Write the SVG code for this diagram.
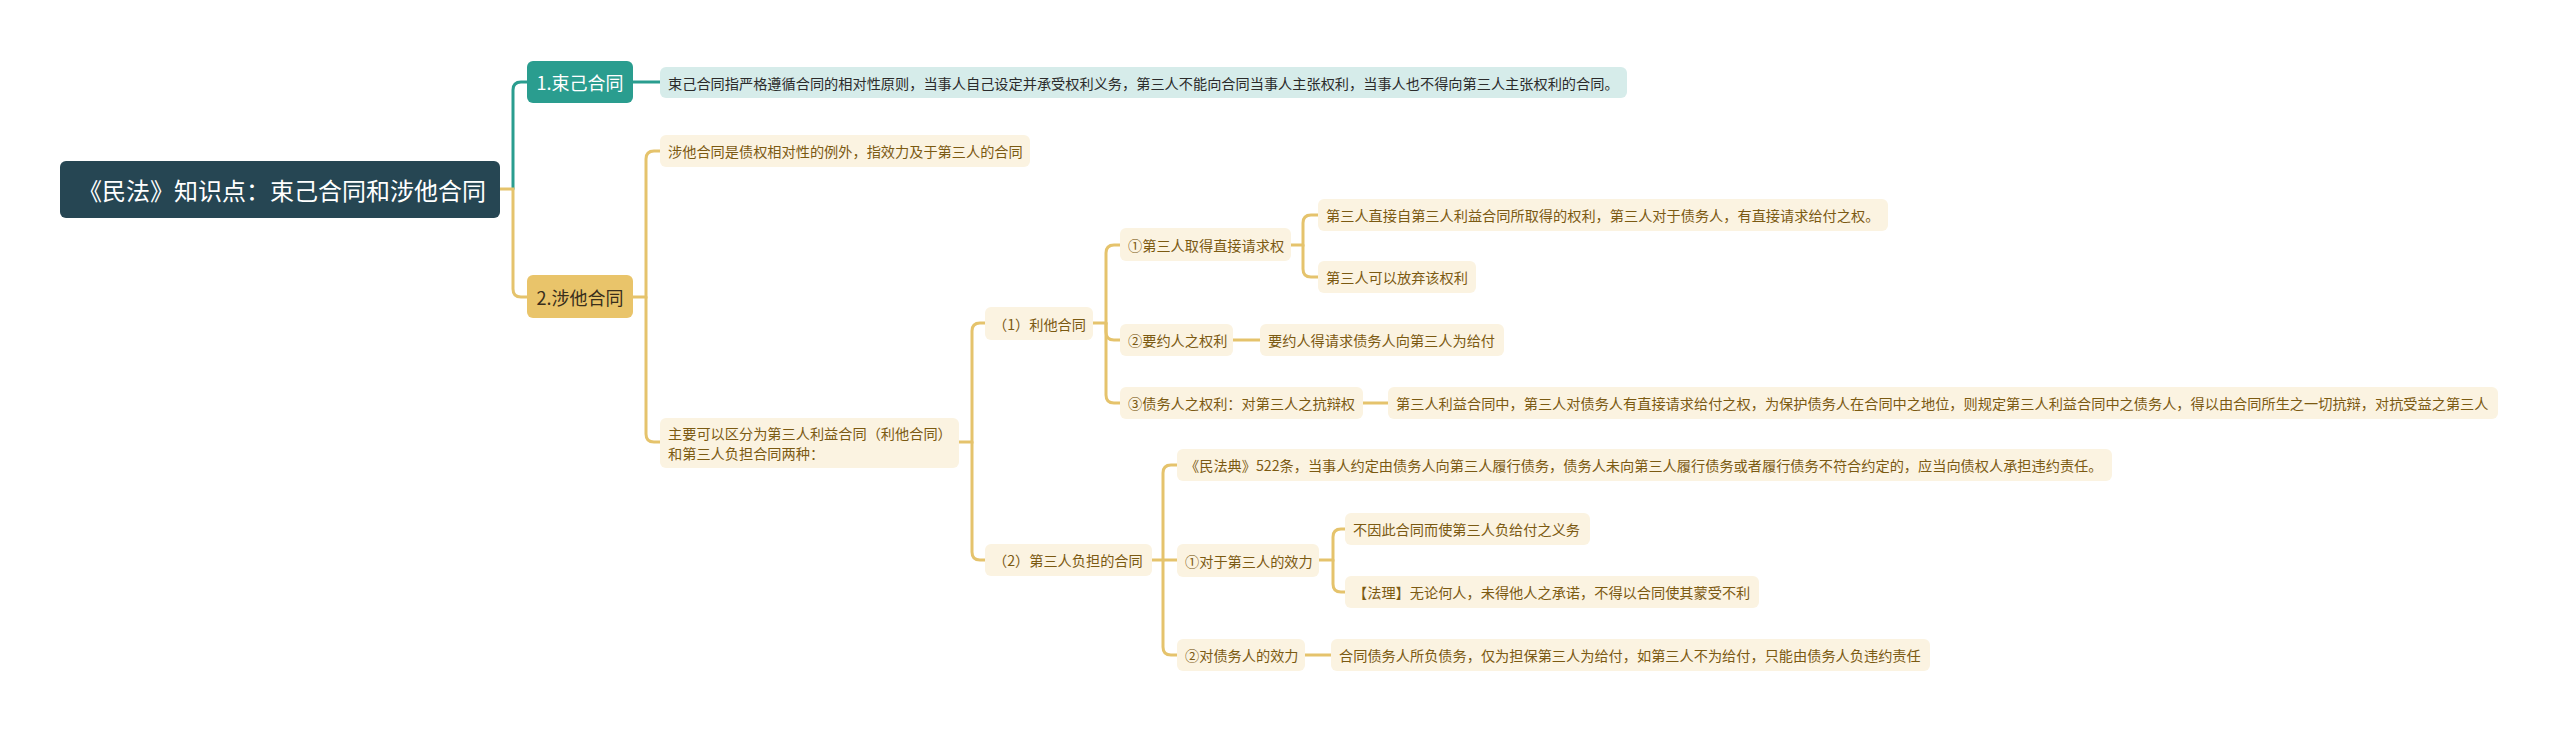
<svg xmlns="http://www.w3.org/2000/svg" width="2560" height="732" viewBox="0 0 2560 732">
<style>
text{font-family:"Noto Sans CJK SC","Noto Sans",sans-serif;dominant-baseline:central}
.root rect{fill:#264653}
.root text{fill:#ffffff;font-size:24px;text-anchor:middle}
.t1 rect{fill:#2a9d8f}
.t1 text{fill:#ffffff;font-size:18px;text-anchor:middle}
.t2 rect{fill:#e9c46a}
.t2 text{fill:#3a2f1c;font-size:18px;text-anchor:middle}
.tl rect{fill:#d6ecea}
.tl text{fill:#2b2b2b;font-size:14.2px}
.yl rect{fill:#fbf3e1}
.yl text{fill:#7b5a12;font-size:14.2px}
.c path{fill:none;stroke-width:3;stroke-linecap:round}
.c .teal{stroke:#2a9d8f}
.c .yel{stroke:#e5c36c}
</style>
<rect width="2560" height="732" fill="#ffffff"/>
<g id="connectors" class="c">
  <path class="teal" d="M513 189 V90 Q513 82 521 82 H527"/>
  <path class="yel" d="M500 189 H513 V289 Q513 297 521 297 H527"/>
  <path class="teal" d="M633 82 H660"/>
  <path class="yel" d="M633 297 H646 V159 Q646 151 654 151 H660"/>
  <path class="yel" d="M646 297 V434 Q646 442 654 442 H660"/>
  <path class="yel" d="M959 442 H972 V331 Q972 323 980 323 H985"/>
  <path class="yel" d="M972 442 V552 Q972 560 980 560 H985"/>
  <path class="yel" d="M1093 323 H1106 V253 Q1106 245 1114 245 H1120"/>
  <path class="yel" d="M1106 323 V332 Q1106 340 1114 340 H1120"/>
  <path class="yel" d="M1106 323 V395 Q1106 403 1114 403 H1120"/>
  <path class="yel" d="M1291 245 H1303 V223 Q1303 215 1311 215 H1318"/>
  <path class="yel" d="M1303 245 V269 Q1303 277 1311 277 H1318"/>
  <path class="yel" d="M1233 340 H1260"/>
  <path class="yel" d="M1363 403 H1388"/>
  <path class="yel" d="M1152 560 H1163 V473 Q1163 465 1171 465 H1177"/>
  <path class="yel" d="M1163 560 H1177"/>
  <path class="yel" d="M1163 560 V647 Q1163 655 1171 655 H1177"/>
  <path class="yel" d="M1319 560 H1333 V537 Q1333 529 1341 529 H1345"/>
  <path class="yel" d="M1333 560 V584 Q1333 592 1341 592 H1345"/>
  <path class="yel" d="M1305 655 H1331"/>
</g>
<g id="root" class="root"><rect x="60" y="161" width="440" height="57" rx="6"/><text x="282" y="189.5">《民法》知识点：束己合同和涉他合同</text></g>
<g id="n1" class="t1"><rect x="527" y="61" width="106" height="42" rx="6"/><text x="580" y="82">1.束己合同</text></g>
<g id="n1a" class="tl"><rect x="660" y="67" width="967" height="31" rx="6"/><text x="668" y="82.5">束己合同指严格遵循合同的相对性原则，当事人自己设定并承受权利义务，第三人不能向合同当事人主张权利，当事人也不得向第三人主张权利的合同。</text></g>
<g id="n2" class="t2"><rect x="527" y="275" width="106" height="43" rx="6"/><text x="580" y="296.5">2.涉他合同</text></g>
<g id="n2a" class="yl"><rect x="660" y="135" width="370" height="32" rx="6"/><text x="668" y="151">涉他合同是债权相对性的例外，指效力及于第三人的合同</text></g>
<g id="n2b" class="yl"><rect x="660" y="418" width="299" height="50" rx="6"/><text x="668" y="433">主要可以区分为第三人利益合同（利他合同）</text><text x="668" y="453">和第三人负担合同两种：</text></g>
<g id="n3a" class="yl"><rect x="985" y="307" width="108" height="33" rx="6"/><text x="993" y="323.5">（1）利他合同</text></g>
<g id="n3b" class="yl"><rect x="985" y="544" width="167" height="32" rx="6"/><text x="993" y="560">（2）第三人负担的合同</text></g>
<g id="n4a" class="yl"><rect x="1120" y="228" width="171" height="33" rx="6"/><text x="1128" y="244.5">①第三人取得直接请求权</text></g>
<g id="n4b" class="yl"><rect x="1120" y="324" width="113" height="32" rx="6"/><text x="1128" y="340">②要约人之权利</text></g>
<g id="n4c" class="yl"><rect x="1120" y="387" width="243" height="32" rx="6"/><text x="1128" y="403">③债务人之权利：对第三人之抗辩权</text></g>
<g id="n5a" class="yl"><rect x="1318" y="199" width="570" height="32" rx="6"/><text x="1326" y="215">第三人直接自第三人利益合同所取得的权利，第三人对于债务人，有直接请求给付之权。</text></g>
<g id="n5b" class="yl"><rect x="1318" y="261" width="158" height="32" rx="6"/><text x="1326" y="277">第三人可以放弃该权利</text></g>
<g id="n5c" class="yl"><rect x="1260" y="324" width="244" height="32" rx="6"/><text x="1268" y="340">要约人得请求债务人向第三人为给付</text></g>
<g id="n5d" class="yl"><rect x="1388" y="387" width="1110" height="32" rx="6"/><text x="1396" y="403">第三人利益合同中，第三人对债务人有直接请求给付之权，为保护债务人在合同中之地位，则规定第三人利益合同中之债务人，得以由合同所生之一切抗辩，对抗受益之第三人</text></g>
<g id="n6a" class="yl"><rect x="1177" y="449" width="935" height="32" rx="6"/><text x="1185" y="465">《民法典》522条，当事人约定由债务人向第三人履行债务，债务人未向第三人履行债务或者履行债务不符合约定的，应当向债权人承担违约责任。</text></g>
<g id="n6b" class="yl"><rect x="1177" y="544" width="142" height="33" rx="6"/><text x="1185" y="560.5">①对于第三人的效力</text></g>
<g id="n6c" class="yl"><rect x="1177" y="639" width="128" height="32" rx="6"/><text x="1185" y="655">②对债务人的效力</text></g>
<g id="n7a" class="yl"><rect x="1345" y="513" width="245" height="32" rx="6"/><text x="1353" y="529">不因此合同而使第三人负给付之义务</text></g>
<g id="n7b" class="yl"><rect x="1345" y="576" width="414" height="32" rx="6"/><text x="1353" y="592">【法理】无论何人，未得他人之承诺，不得以合同使其蒙受不利</text></g>
<g id="n7c" class="yl"><rect x="1331" y="639" width="599" height="32" rx="6"/><text x="1339" y="655">合同债务人所负债务，仅为担保第三人为给付，如第三人不为给付，只能由债务人负违约责任</text></g>
</svg>
